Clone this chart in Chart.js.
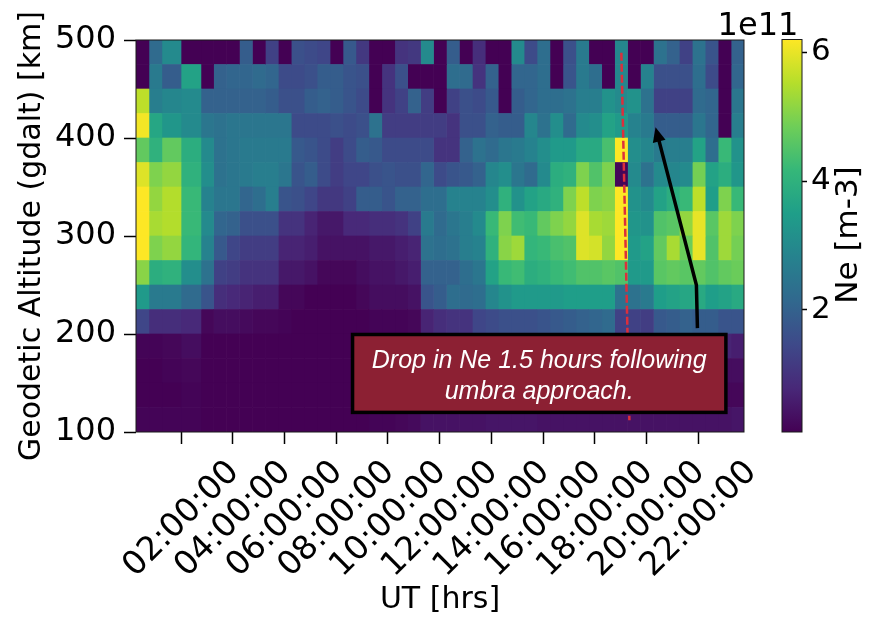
<!doctype html>
<html lang="en">
<head>
  <meta charset="utf-8">
  <title>Ne vs altitude and UT</title>
  <style type="text/css">
    html, body { margin: 0; padding: 0; background: #fff; }
    #wrap { position: relative; width: 869px; height: 618px; overflow: hidden; }
    #wrap canvas { position: absolute; left: 0; top: 0; }
  </style>
  <script src="https://cdn.jsdelivr.net/npm/chart.js@4"></script>
</head>
<body>
  <div id="wrap">
    <canvas id="chart_ne" width="869" height="618"></canvas>
    <canvas id="chart_bar" width="869" height="618"></canvas>
  </div>

  <script>
    // column edges in hours UT (the first few are uneven in the source)
    const time_edges = [0.26, 0.76, 1.26, 2.0, 2.77, 3.26, 3.76, 4.26, 4.76, 5.26, 5.76, 6.26, 6.76, 7.26, 7.76, 8.26, 8.76, 9.26, 9.76, 10.26, 10.76, 11.26, 11.76, 12.26, 12.76, 13.26, 13.76, 14.26, 14.76, 15.26, 15.76, 16.26, 16.76, 17.26, 17.76, 18.26, 18.76, 19.26, 19.76, 20.26, 20.76, 21.26, 21.76, 22.26, 22.76, 23.26, 23.76];
    const time_ticks = [2, 4, 6, 8, 10, 12, 14, 16, 18, 20, 22];
    const altitude_centers = [487.5, 462.5, 437.5, 412.5, 387.5, 362.5, 337.5, 312.5, 287.5, 262.5, 237.5, 212.5, 187.5, 162.5, 137.5, 112.5];

    // Ne in 1e11 m-3, one row per altitude from the top down
    const ne_rows = [
      [0.1, 2.2, 3.0, 0.1, 0.1, 0.1, 0.1, 1.9, 0.1, 1.3, 0.1, 1.6, 1.5, 1.4, 0.1, 1.8, 1.1, 0.1, 0.1, 1.0, 1.1, 3.0, 0.1, 1.9, 0.1, 0.9, 0.1, 0.1, 3.0, 1.5, 2.3, 0.1, 1.6, 2.6, 0.1, 0.1, 2.9, 0.1, 0.1, 2.4, 2.0, 1.3, 2.4, 1.7, 0.1, 2.0],
      [0.1, 2.6, 1.9, 3.6, 0.1, 2.0, 2.1, 2.1, 2.2, 2.1, 1.5, 1.5, 1.6, 1.9, 1.9, 1.7, 1.6, 0.1, 1.0, 1.6, 0.1, 0.1, 0.1, 2.3, 2.2, 1.0, 2.0, 0.1, 2.1, 2.1, 2.3, 0.1, 1.7, 2.6, 2.3, 0.1, 2.9, 0.1, 2.8, 1.6, 1.6, 1.6, 2.3, 1.5, 0.1, 2.1],
      [5.6, 2.7, 2.9, 3.0, 2.0, 2.0, 2.0, 2.0, 2.0, 1.9, 1.6, 1.6, 1.9, 2.0, 1.9, 1.7, 1.5, 0.1, 1.0, 1.3, 2.0, 1.2, 0.1, 1.3, 1.6, 1.5, 1.8, 0.1, 1.9, 2.1, 2.3, 2.3, 2.4, 2.7, 2.7, 3.2, 3.0, 3.2, 2.4, 1.3, 1.3, 1.3, 2.2, 2.1, 0.1, 2.5],
      [6.1, 3.7, 3.3, 3.0, 2.5, 2.4, 2.5, 2.5, 2.5, 2.5, 2.5, 1.5, 1.5, 1.5, 1.6, 1.5, 1.6, 2.4, 1.2, 1.2, 1.2, 1.2, 1.2, 1.0, 1.6, 1.6, 2.0, 1.9, 1.9, 2.9, 2.4, 3.1, 2.2, 3.0, 3.1, 3.6, 3.4, 2.8, 2.6, 1.9, 1.9, 1.9, 2.5, 2.1, 0.1, 2.7],
      [4.7, 4.0, 4.7, 3.9, 3.0, 2.4, 2.5, 2.6, 2.6, 2.6, 2.6, 1.8, 1.7, 1.5, 1.2, 1.5, 1.9, 1.8, 1.5, 1.5, 1.5, 1.5, 1.0, 1.0, 2.0, 2.4, 2.2, 2.5, 2.6, 2.8, 3.1, 3.4, 3.4, 3.8, 3.8, 4.4, 6.2, 3.1, 2.9, 2.6, 2.7, 2.7, 3.6, 2.3, 4.2, 3.2],
      [5.9, 5.0, 5.2, 4.0, 3.1, 2.4, 2.5, 2.6, 2.7, 2.7, 2.5, 1.7, 1.9, 1.5, 1.2, 1.4, 1.4, 1.6, 1.7, 1.6, 1.6, 2.1, 1.5, 1.7, 1.8, 2.0, 2.9, 3.1, 2.5, 2.2, 3.0, 3.9, 4.0, 5.0, 4.5, 5.0, 0.2, 3.0, 2.4, 3.0, 2.9, 3.0, 4.9, 3.6, 3.9, 3.3],
      [6.2, 5.2, 5.5, 4.2, 2.8, 2.5, 2.5, 2.1, 2.3, 2.7, 1.7, 1.6, 1.4, 1.1, 1.1, 1.3, 1.9, 1.9, 1.7, 2.0, 2.0, 2.3, 2.3, 2.8, 2.8, 2.8, 3.1, 4.0, 3.2, 3.6, 3.8, 4.0, 5.0, 5.6, 5.0, 5.1, 6.2, 3.2, 3.0, 3.6, 3.9, 4.2, 5.6, 3.5, 5.0, 4.2],
      [6.2, 5.4, 5.5, 4.2, 3.0, 2.1, 2.0, 1.6, 1.6, 1.6, 1.0, 1.0, 0.7, 0.5, 0.5, 0.8, 0.8, 0.9, 0.9, 1.0, 1.3, 2.6, 2.2, 2.5, 2.7, 3.0, 4.2, 5.0, 4.3, 4.2, 4.7, 5.0, 5.2, 5.9, 5.4, 5.3, 6.2, 3.3, 3.2, 4.5, 4.6, 5.2, 6.0, 4.6, 5.3, 5.0],
      [6.2, 5.0, 5.2, 4.1, 2.8, 1.8, 1.4, 1.2, 1.2, 1.2, 0.7, 0.7, 0.6, 0.4, 0.4, 0.4, 0.4, 0.5, 0.5, 0.6, 0.7, 2.4, 2.3, 2.4, 2.7, 2.8, 4.0, 5.1, 5.3, 4.1, 4.2, 4.4, 4.5, 5.9, 5.8, 5.2, 6.2, 3.4, 3.6, 4.7, 5.4, 4.8, 6.0, 4.5, 5.3, 4.9],
      [5.1, 3.9, 4.0, 3.1, 2.4, 1.3, 1.2, 1.0, 1.0, 1.0, 0.5, 0.5, 0.4, 0.2, 0.2, 0.2, 0.3, 0.4, 0.4, 0.5, 0.6, 2.0, 2.0, 2.0, 2.3, 2.5, 3.6, 4.2, 4.3, 3.9, 4.0, 4.2, 4.3, 4.5, 4.5, 4.6, 4.5, 3.4, 3.4, 4.6, 4.7, 4.6, 4.7, 4.5, 4.7, 4.8],
      [3.4, 2.6, 2.6, 2.2, 1.7, 0.9, 0.8, 0.7, 0.6, 0.6, 0.2, 0.2, 0.1, 0.1, 0.1, 0.1, 0.2, 0.3, 0.3, 0.3, 0.4, 1.7, 1.9, 2.3, 2.2, 2.3, 2.9, 3.2, 3.4, 3.4, 3.4, 3.4, 3.5, 3.5, 3.5, 3.5, 2.4, 2.4, 2.6, 3.5, 3.6, 3.7, 3.8, 3.5, 3.6, 3.8],
      [1.4, 0.9, 0.9, 0.8, 0.2, 0.3, 0.3, 0.25, 0.2, 0.2, 0.15, 0.1, 0.1, 0.1, 0.1, 0.1, 0.1, 0.15, 0.15, 0.15, 0.2, 0.7, 0.9, 1.0, 1.0, 1.4, 1.5, 1.6, 1.6, 1.6, 1.7, 1.8, 1.9, 2.0, 2.1, 2.2, 1.3, 1.3, 1.2, 1.8, 1.9, 2.0, 1.9, 1.9, 1.7, 1.7],
      [0.15, 0.15, 0.2, 0.3, 0.1, 0.1, 0.1, 0.1, 0.1, 0.1, 0.1, 0.1, 0.1, 0.1, 0.1, 0.1, 0.1, 0.1, 0.1, 0.1, 0.1, 0.2, 0.2, 0.2, 0.2, 0.2, 0.2, 0.2, 0.2, 0.3, 0.3, 0.3, 0.3, 0.3, 0.3, 0.3, 0.3, 0.3, 0.3, 0.3, 0.3, 0.3, 0.3, 0.4, 0.7, 0.6],
      [0.1, 0.1, 0.15, 0.2, 0.1, 0.1, 0.1, 0.1, 0.1, 0.1, 0.1, 0.1, 0.1, 0.1, 0.1, 0.1, 0.1, 0.1, 0.1, 0.1, 0.1, 0.15, 0.15, 0.15, 0.15, 0.15, 0.2, 0.2, 0.2, 0.2, 0.2, 0.2, 0.2, 0.2, 0.2, 0.2, 0.2, 0.2, 0.2, 0.2, 0.2, 0.2, 0.2, 0.2, 0.3, 0.3],
      [0.1, 0.1, 0.1, 0.15, 0.1, 0.1, 0.1, 0.1, 0.1, 0.1, 0.1, 0.1, 0.1, 0.1, 0.1, 0.1, 0.1, 0.1, 0.1, 0.1, 0.1, 0.15, 0.15, 0.15, 0.15, 0.2, 0.2, 0.2, 0.2, 0.2, 0.2, 0.2, 0.2, 0.2, 0.2, 0.2, 0.2, 0.2, 0.2, 0.2, 0.2, 0.2, 0.2, 0.2, 0.2, 0.2],
      [0.15, 0.15, 0.15, 0.15, 0.1, 0.1, 0.1, 0.1, 0.1, 0.1, 0.1, 0.1, 0.1, 0.1, 0.1, 0.1, 0.1, 0.15, 0.15, 0.2, 0.25, 0.4, 0.4, 0.4, 0.4, 0.4, 0.45, 0.45, 0.45, 0.45, 0.4, 0.4, 0.4, 0.4, 0.4, 0.4, 0.4, 0.4, 0.4, 0.4, 0.4, 0.4, 0.4, 0.4, 0.4, 0.45]
    ];

    const ne_min = 0.1;
    const ne_max = 6.2;
    const ne_ticks = [2, 4, 6];
    const viridis = ['#440154', '#482878', '#3e4989', '#31688e', '#26828e', '#1f9e89', '#35b779', '#6ece58', '#b5de2b', '#fde725'];

    const umbra_hours = [19.02, 19.33];
    const umbra_km = [487, 112];
    const arrow_hours = [21.96, 21.92, 20.34];
    const arrow_km = [206, 250, 411];
    const note_lines = ['Drop in Ne 1.5 hours following', 'umbra approach.'];
    const note_hours = [8.63, 23.06];
    const note_km = [199.5, 120];

    function hexToRgb(hex) {
      return [1, 3, 5].map(i => parseInt(hex.slice(i, i + 2), 16));
    }

    function neColor(value) {
      var t = Math.min(1, Math.max(0, (value - ne_min) / (ne_max - ne_min))) * (viridis.length - 1);
      var lo = Math.floor(t);
      var hi = Math.min(viridis.length - 1, lo + 1);
      var a = hexToRgb(viridis[lo]), b = hexToRgb(viridis[hi]);
      var c = a.map((v, i) => Math.round(v + (b[i] - v) * (t - lo)));
      return 'rgb(' + c.join(',') + ')';
    }

    function hourLabel(h) {
      return String(h).padStart(2, '0') + ':00:00';
    }

    const font_main = 'DejaVu Sans';

    // one dataset per time column, floating horizontal bars on linear axes
    const cell_datasets = time_edges.slice(0, -1).map((t0, col) => ({
      data: altitude_centers.map(km => ({ x: [t0, time_edges[col + 1]], y: km })),
      backgroundColor: ne_rows.map(row => neColor(row[col])),
      borderWidth: 0,
      barPercentage: 1,
      categoryPercentage: 1,
      grouped: false,
      order: 2
    }));

    const umbra_dataset = {
      type: 'line',
      data: umbra_hours.map((h, i) => ({ x: h, y: umbra_km[i] })),
      borderColor: '#dc2f3c',
      borderWidth: 2.5,
      borderDash: [8, 3],
      pointRadius: 0,
      order: 1
    };

    const framePlugin = {
      id: 'frame',
      afterDatasetsDraw(chart) {
        const { ctx, chartArea: a, scales } = chart;
        ctx.save();
        ctx.strokeStyle = '#1a1a1a';
        ctx.lineWidth = 1;
        ctx.strokeRect(a.left, a.top, a.right - a.left, a.bottom - a.top);

        // arrow
        const px = arrow_hours.map(h => scales.x.getPixelForValue(h));
        const py = arrow_km.map(k => scales.y.getPixelForValue(k));
        ctx.strokeStyle = '#000';
        ctx.lineWidth = 3.5;
        ctx.beginPath();
        ctx.moveTo(px[0], py[0]);
        ctx.lineTo(px[1], py[1]);
        var ang = Math.atan2(py[2] - py[1], px[2] - px[1]);
        ctx.lineTo(px[2] - 12 * Math.cos(ang), py[2] - 12 * Math.sin(ang));
        ctx.stroke();
        ctx.fillStyle = '#000';
        ctx.beginPath();
        ctx.moveTo(px[2], py[2]);
        ctx.lineTo(px[2] - 16 * Math.cos(ang - 0.42), py[2] - 16 * Math.sin(ang - 0.42));
        ctx.lineTo(px[2] - 16 * Math.cos(ang + 0.42), py[2] - 16 * Math.sin(ang + 0.42));
        ctx.closePath();
        ctx.fill();

        // note box
        const x0 = scales.x.getPixelForValue(note_hours[0]);
        const x1 = scales.x.getPixelForValue(note_hours[1]);
        const y0 = scales.y.getPixelForValue(note_km[0]);
        const y1 = scales.y.getPixelForValue(note_km[1]);
        ctx.fillStyle = '#8c2033';
        ctx.strokeStyle = '#000';
        ctx.lineWidth = 3.5;
        ctx.fillRect(x0, y0, x1 - x0, y1 - y0);
        ctx.strokeRect(x0, y0, x1 - x0, y1 - y0);
        ctx.fillStyle = '#fff';
        ctx.font = 'italic 25px "Liberation Sans"';
        ctx.textAlign = 'center';
        ctx.textBaseline = 'middle';
        ctx.fillText(note_lines[0], (x0 + x1) / 2, y0 + 27);
        ctx.fillText(note_lines[1], (x0 + x1) / 2, y0 + 58);
        ctx.restore();
      }
    };

    const chart_ne = new Chart(document.getElementById('chart_ne'), {
      type: 'bar',
      data: { datasets: cell_datasets.concat([umbra_dataset]) },
      options: {
        indexAxis: 'y',
        responsive: false,
        animation: false,
        layout: { padding: { left: 0, top: 40, right: 125, bottom: 0 } },
        plugins: { legend: { display: false }, tooltip: { enabled: false } },
        scales: {
          x: {
            type: 'linear',
            min: time_edges[0],
            max: time_edges[time_edges.length - 1],
            afterBuildTicks: s => { s.ticks = time_ticks.map(v => ({ value: v })); },
            afterFit: s => { s.height = 186; },
            grid: { drawOnChartArea: false, tickLength: 12, tickColor: '#000', tickWidth: 1.5 },
            border: { display: false },
            ticks: {
              font: { family: font_main, size: 33 },
              color: '#000',
              minRotation: 45,
              maxRotation: 45,
              autoSkip: false,
              labelOffset: 53,
              padding: 9,
              callback: v => hourLabel(v)
            },
            title: { display: true, text: 'UT [hrs]', color: '#000', font: { family: font_main, size: 30 }, padding: { top: 0, bottom: 0 } }
          },
          y: {
            type: 'linear',
            offset: false,
            min: 100,
            max: 500,
            afterFit: s => { s.width = 136; },
            grid: { offset: false, drawOnChartArea: false, tickLength: 12, tickColor: '#000', tickWidth: 1.5 },
            border: { display: false },
            ticks: { stepSize: 100, font: { family: font_main, size: 32 }, color: '#000', padding: 8 },
            title: { display: true, text: 'Geodetic Altitude (gdalt) [km]', color: '#000', font: { family: font_main, size: 30 }, padding: { top: 14, bottom: 0 } }
          }
        }
      },
      plugins: [framePlugin]
    });

    // colorbar: one gradient bar on its own value axis
    const barLabelPlugin = {
      id: 'barLabel',
      afterDraw(chart) {
        const { ctx, chartArea: a } = chart;
        ctx.save();
        ctx.strokeStyle = '#1a1a1a';
        ctx.lineWidth = 1;
        ctx.strokeRect(a.left, a.top, a.right - a.left, a.bottom - a.top);
        ctx.fillStyle = '#000';
        ctx.font = '32px "DejaVu Sans"';
        ctx.textAlign = 'center';
        ctx.textBaseline = 'alphabetic';
        ctx.fillText('1e11', 758, 35);
        ctx.font = '31px "DejaVu Sans"';
        ctx.translate(849, 235);
        ctx.rotate(-Math.PI / 2);
        ctx.textBaseline = 'middle';
        ctx.fillText('Ne [m-3]', 0, 0);
        ctx.restore();
      }
    };

    const chart_bar = new Chart(document.getElementById('chart_bar'), {
      type: 'bar',
      data: {
        labels: ['Ne'],
        datasets: [{
          data: [[ne_min, ne_max]],
          borderWidth: 0,
          barPercentage: 1,
          categoryPercentage: 1,
          backgroundColor(context) {
            const { ctx, chartArea, scales } = context.chart;
            if (!chartArea) return viridis[0];
            const g = ctx.createLinearGradient(0, scales.y.getPixelForValue(ne_min), 0, scales.y.getPixelForValue(ne_max));
            viridis.forEach((c, i) => g.addColorStop(i / (viridis.length - 1), c));
            return g;
          }
        }]
      },
      options: {
        responsive: false,
        animation: false,
        layout: { padding: { left: 782, top: 39.5, right: 0, bottom: 186 } },
        plugins: { legend: { display: false }, tooltip: { enabled: false } },
        scales: {
          x: { display: false },
          y: {
            position: 'right',
            min: ne_min,
            max: ne_max,
            afterBuildTicks: s => { s.ticks = ne_ticks.map(v => ({ value: v })); },
            afterFit: s => { s.width = 67; },
            grid: { drawOnChartArea: false, tickLength: 5, tickColor: '#000', tickWidth: 1.5 },
            border: { display: false },
            ticks: { font: { family: font_main, size: 31 }, color: '#000', padding: 4 }
          }
        }
      },
      plugins: [barLabelPlugin]
    });
  </script>
</body>
</html>
